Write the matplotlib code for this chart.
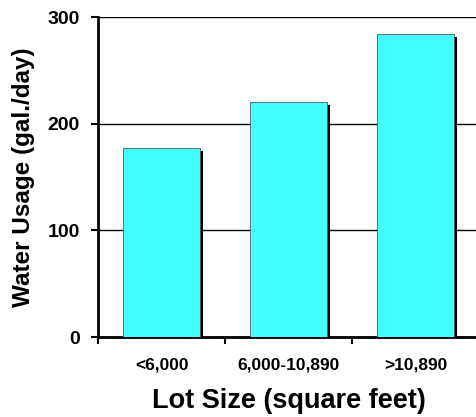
import matplotlib
matplotlib.use('Agg')
import matplotlib.pyplot as plt
import matplotlib.patheffects as pe
import numpy as np

# lot size classes and average water use
lot_sizes = ['<6,000', '6,000-10,890', '>10,890']
usage = [177, 220, 284]
y_ticks = [0, 100, 200, 300]

plt.rcParams['font.family'] = ['Liberation Sans', 'DejaVu Sans']
plt.rcParams['font.weight'] = 'bold'

fig = plt.figure(figsize=(4.77, 4.17), dpi=100)
ax = fig.add_axes([98 / 477, 1 - 337 / 417, 381 / 477, 320 / 417])

x = np.arange(len(lot_sizes))
# bars with a hard black drop shadow on the right
bars = ax.bar(x, usage, width=0.6, color='#44FFFF', edgecolor='#555555',
              linewidth=0.6, zorder=3)
for b in bars:
    b.set_path_effects([pe.SimplePatchShadow(offset=(2.5, -2.0),
                                             shadow_rgbFace='black', alpha=1.0),
                        pe.Normal()])

ax.set_xlim(-0.5, 2.5)
ax.set_ylim(0, 300)
ax.set_yticks(y_ticks)
ax.yaxis.grid(True, color='black', linewidth=1.0, zorder=0)
ax.set_axisbelow(True)

# labels sit under the bars, tick marks between categories
ax.set_xticks(x)
ax.set_xticklabels(lot_sizes)
ax.set_xticks([-0.5, 0.5, 1.5, 2.5], minor=True)
ax.tick_params(axis='x', which='major', length=0, pad=15, labelsize=12.5)
ax.tick_params(axis='x', which='minor', length=5, width=1.5, direction='out')
ax.tick_params(axis='y', length=5, width=1.5, direction='out', pad=8,
               labelsize=14)

for s in ['top', 'right']:
    ax.spines[s].set_visible(False)
ax.spines['left'].set_linewidth(2)
ax.spines['bottom'].set_linewidth(2)

ax.set_xlabel('Lot Size (square feet)', fontsize=19.5, fontweight='bold',
              labelpad=11)
ax.set_ylabel('Water Usage (gal./day)', fontsize=17.5, fontweight='bold',
              labelpad=9)

fig.savefig('out.png', dpi=100)
